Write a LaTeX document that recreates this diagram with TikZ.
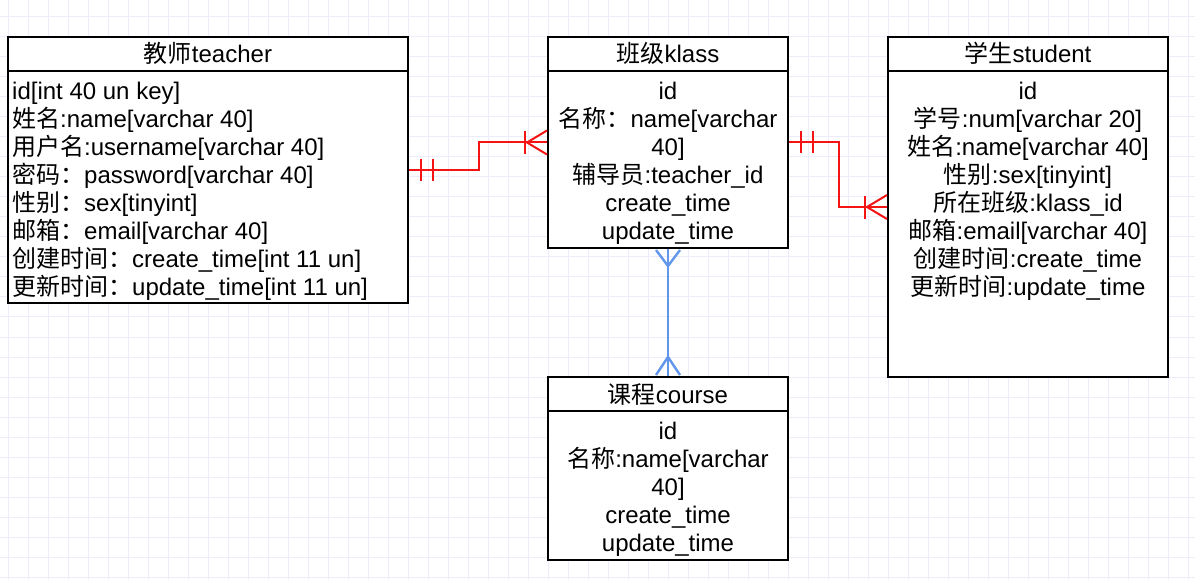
\documentclass[tikz,border=0pt]{standalone}
\usepackage{fontspec}
\setmainfont{Liberation Sans}
\newfontfamily\cjk{Noto Sans CJK SC}
\newcommand\zh[1]{{\cjk #1}}
\usetikzlibrary{calc}
\definecolor{gridc}{RGB}{236,236,250}
\definecolor{erblue}{RGB}{98,150,235}
\definecolor{erred}{RGB}{245,20,20}
\begin{document}
\begin{tikzpicture}[x=1pt,y=-1pt,
  ent/.style={draw=black, line width=2pt, fill=white, rectangle, inner sep=0},
  rowtxt/.style={inner sep=0, font=\fontsize{24}{28}\selectfont},
  redlink/.style={draw=erred, line width=2pt},
  bluelink/.style={draw=erblue, line width=2.4pt}]
\useasboundingbox (0,0) rectangle (1195,580);
\fill[white] (0,0) rectangle (1195,580);
% grid
\foreach \gx in {8,28,...,1188} \draw[gridc, line width=1pt] (\gx,0) -- (\gx,580);
\foreach \gy in {17,37,...,577} \draw[gridc, line width=1pt] (0,\gy) -- (1195,\gy);

% entity boxes
\node[ent, minimum width=400pt, minimum height=266pt] (teacher) at (208,170) {};
\node[ent, minimum width=240pt, minimum height=211pt] (klass) at (668,142.5) {};
\node[ent, minimum width=280pt, minimum height=340pt] (student) at (1028,207) {};
\node[ent, minimum width=240pt, minimum height=183pt] (course) at (668,468.5) {};
\foreach \b in {teacher,klass,student,course}
  \draw[line width=2pt] ($(\b.north west)+(0,35)$) -- ($(\b.north east)+(0,35)$);

% headers
\node[rowtxt, anchor=base] (th) at (208,63) {\zh{教师}teacher};
\node[rowtxt, anchor=base] (kh) at (668,63) {\zh{班级}klass};
\node[rowtxt, anchor=base] (sh) at (1028,63) {\zh{学生}student};
\node[rowtxt, anchor=base] (ch) at (668,403) {\zh{课程}course};

% teacher rows
\foreach \s [count=\i] in {{id[int 40 un key]},
  {\zh{姓名}:name[varchar 40]},
  {\zh{用户名}:username[varchar 40]},
  {\zh{密码：}password[varchar 40]},
  {\zh{性别：}sex[tinyint]},
  {\zh{邮箱：}email[varchar 40]},
  {\zh{创建时间：}create\_time[int 11 un]},
  {\zh{更新时间：}update\_time[int 11 un]}}
  \node[rowtxt, anchor=base west] (tr\i) at (12,{71.5+28*\i}) {\s};

% klass rows
\foreach \s [count=\i] in {{id},
  {\zh{名称：}name[varchar},
  {40]},
  {\zh{辅导员}:teacher\_id},
  {create\_time},
  {update\_time}}
  \node[rowtxt, anchor=base] (kr\i) at (668,{71.5+28*\i}) {\s};

% student rows
\foreach \s [count=\i] in {{id},
  {\zh{学号}:num[varchar 20]},
  {\zh{姓名}:name[varchar 40]},
  {\zh{性别}:sex[tinyint]},
  {\zh{所在班级}:klass\_id},
  {\zh{邮箱}:email[varchar 40]},
  {\zh{创建时间}:create\_time},
  {\zh{更新时间}:update\_time}}
  \node[rowtxt, anchor=base] (sr\i) at (1028,{71.5+28*\i}) {\s};

% course rows
\foreach \s [count=\i] in {{id},
  {\zh{名称}:name[varchar},
  {40]},
  {create\_time},
  {update\_time}}
  \node[rowtxt, anchor=base] (cr\i) at (668,{411.5+28*\i}) {\s};

% teacher -- klass
\draw[redlink] (teacher.east) -- ++(70,0) |- (klass.west);
\draw[redlink] ($(teacher.east)+(12,-11)$) -- ++(0,22);
\draw[redlink] ($(teacher.east)+(24,-11)$) -- ++(0,22);
\draw[redlink] ($(klass.west)+(-22,-11)$) -- ++(0,23);
\draw[redlink] ($(klass.west)+(0,-12)$) -- ($(klass.west)+(-20,0)$) -- ($(klass.west)+(0,12)$);

% klass -- student
\draw[redlink] (klass.east) -- ++(50,0) |- (student.west);
\draw[redlink] ($(klass.east)+(12,-11)$) -- ++(0,22);
\draw[redlink] ($(klass.east)+(24,-11)$) -- ++(0,22);
\draw[redlink] ($(student.west)+(-22,-11)$) -- ++(0,23);
\draw[redlink] ($(student.west)+(0,-12)$) -- ($(student.west)+(-20,0)$) -- ($(student.west)+(0,12)$);

% klass -- course
\draw[bluelink] (klass.south) -- (course.north);
\draw[bluelink] ($(klass.south)+(-12,1)$) -- ($(klass.south)+(0,17)$) -- ($(klass.south)+(12,1)$);
\draw[bluelink] ($(course.north)+(-12,-1)$) -- ($(course.north)+(0,-19)$) -- ($(course.north)+(12,-1)$);
\end{tikzpicture}
\end{document}
